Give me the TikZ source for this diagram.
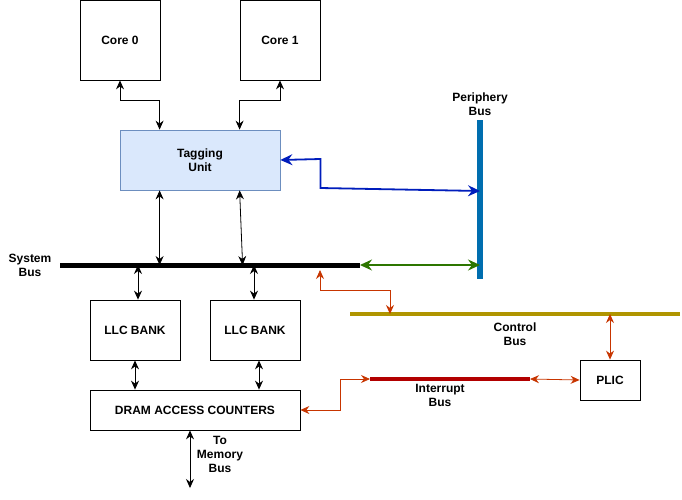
\documentclass[tikz,border=0pt]{standalone}
\usepackage{fontspec}
\setmainfont{Liberation Sans}
\usepackage{xcolor}
\usetikzlibrary{arrows.meta,positioning,calc}
\definecolor{tagfill}{HTML}{DAE8FC}
\definecolor{tagline}{HTML}{6C8EBF}
\definecolor{perbus}{HTML}{006EAF}
\definecolor{ctlbus}{HTML}{B09500}
\definecolor{intbus}{HTML}{B20000}
\definecolor{bluelink}{HTML}{001DBC}
\definecolor{greenlink}{HTML}{2D7600}
\definecolor{orangelink}{HTML}{C73500}
\begin{document}
\begin{tikzpicture}[
  x=1pt, y=-1pt,
  font=\fontsize{12}{14}\selectfont\bfseries,
  unit/.style={draw, line width=0.8pt, align=center, inner sep=0pt},
  tagbox/.style={unit, fill=tagfill, draw=tagline},
  bus/.style={line cap=butt},
  label/.style={align=center, inner sep=0pt},
  arr/.style={<->, >={Stealth[length=9pt,width=8pt,inset=3pt]}, line width=0.8pt},
  bigarr/.style={<->, >={Stealth[length=12pt,width=11pt,inset=4pt]}}
]
\useasboundingbox (0,0) rectangle (682,499);
\node[unit, minimum width=80pt, minimum height=80pt] (core0) at (120,40) {Core 0};
\node[unit, minimum width=80pt, minimum height=80pt] (core1) at (280,40) {Core 1};
\node[tagbox, minimum width=160pt, minimum height=60pt] (tag) at (200,160) {Tagging\\Unit};
\node[unit, minimum width=90pt, minimum height=60pt] (llc0) at (135,330) {LLC BANK};
\node[unit, minimum width=90pt, minimum height=60pt] (llc1) at (255,330) {LLC BANK};
\node[unit, minimum width=210pt, minimum height=40pt] (dram) at (195,410) {DRAM ACCESS COUNTERS};
\node[unit, minimum width=60pt, minimum height=40pt] (plic) at (610,380) {PLIC};
\node[label] (syslbl) at (30,265) {System\\Bus};
\node[label] (perlbl) at (480,104) {Periphery\\Bus};
\node[label] (ctllbl) at (515,334) {Control\\Bus};
\node[label] (intlbl) at (440,395) {Interrupt\\Bus};
\node[label] (memlbl) at (220,454) {To\\Memory\\Bus};
\coordinate (sysL) at (60,265);
\coordinate (sysR) at (360,265);
\coordinate (perT) at (480,120);
\coordinate (perB) at (480,279);
\coordinate (perM) at (480,191);
\coordinate (ctlL) at (350,314);
\coordinate (ctlR) at (680,314);
\coordinate (ctlA) at (390,314);
\coordinate (intL) at (370,379);
\coordinate (intR) at (530,379);
\coordinate (mem) at (190,488);
\coordinate (tagN1) at ($(tag.north west)+(40,0)$);
\coordinate (tagN2) at ($(tag.north west)+(120,0)$);
\coordinate (tagS1) at ($(tag.south west)+(40,0)$);
\coordinate (tagS2) at ($(tag.south west)+(120,0)$);
\coordinate (llcN0) at ($(llc0.north)+(3,0)$);
\coordinate (llcN1) at ($(llc1.north)+(-1,0)$);
\coordinate (llcS1) at ($(llc1.south)+(4,0)$);
\draw[bus, line width=5pt] (sysL) -- (sysR);
\draw[bus, line width=6pt, perbus] (perT) -- (perB);
\draw[bus, line width=4pt, ctlbus] (ctlL) -- (ctlR);
\draw[bus, line width=4pt, intbus] (intL) -- (intR);
\draw[arr] (core0.south) -- ++(0,20) -| (tagN1);
\draw[arr] (core1.south) -- ++(0,20) -| (tagN2);
\draw[arr] (tagS1) -- (tagS1 |- sysL);
\draw[arr] (tagS2) -- ($(tagS2 |- sysL)+(3,0)$);
\draw[arr] (llcN0 |- sysL) -- (llcN0);
\draw[arr] (llcN1 |- sysL) -- (llcN1);
\draw[arr] (llc0.south) -- (llc0.south |- dram.north);
\draw[arr] (llcS1) -- (llcS1 |- dram.north);
\draw[arr] ($(dram.south)+(-5,0)$) -- (mem);
\draw[arr, bigarr, bluelink, line width=1.8pt] (tag.east) -- ++(40,-1) -- ++(0,29) -- (perM);
\draw[arr, bigarr, greenlink, line width=1.4pt] (sysR) -- (perT |- sysR);
\draw[arr, orangelink] ($(sysR)+(-40,5)$) -- ++(0,20) -| (ctlA);
\draw[arr, orangelink] (plic.north) -- (plic.north |- ctlL);
\draw[arr, orangelink] (dram.east) -- ++(40,0) |- (intL);
\draw[arr, orangelink] (intR) -- (plic.west);
\end{tikzpicture}
\end{document}
